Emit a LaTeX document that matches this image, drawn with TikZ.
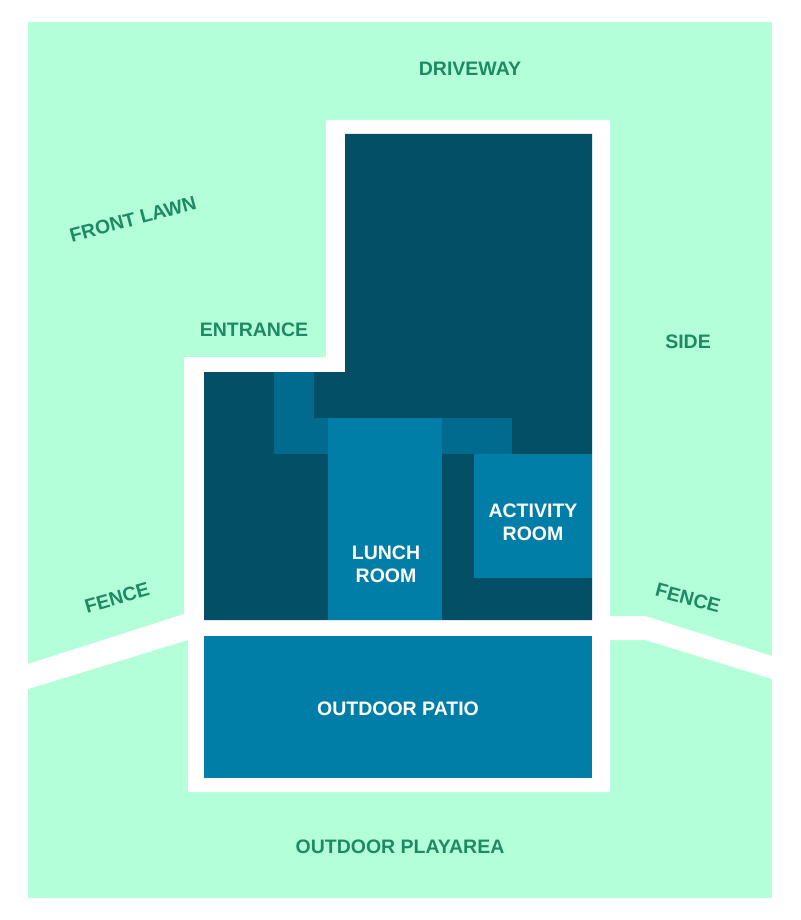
\documentclass[tikz,border=0pt]{standalone}
\usepackage{fontspec}
\setmainfont{Liberation Sans}
\definecolor{lawn}{HTML}{B3FFD9}
\definecolor{wall}{HTML}{024F66}
\definecolor{hall}{HTML}{006A8F}
\definecolor{room}{HTML}{007EA7}
\definecolor{tag}{HTML}{1E8A63}
\tikzset{
  area/.style={text=tag, inner sep=1pt, font=\bfseries\fontsize{19.5}{22}\selectfont},
  roomtag/.style={text=white, inner sep=1pt, font=\bfseries\fontsize{19.5}{23}\selectfont, align=center},
}
\begin{document}
\begin{tikzpicture}[x=1pt,y=-1pt]
    \useasboundingbox (0,0) rectangle (800,920);
    \fill[white] (0,0) rectangle (800,920);
    \fill[lawn] (28,22) rectangle (772,898);

    % building outline and fences
    \fill[white] (184,357) -- (326,357) -- (326,120) -- (610,120) -- (610,792) -- (188,792) -- (188,640) -- (184,640) -- cycle;
    \fill[white] (28,664) -- (184,614) -- (188,640) -- (28,689) -- cycle;
    \fill[white] (608,616) -- (645,616) -- (772,656) -- (772,679) -- (645,640) -- (608,640) -- cycle;

    % rooms
    \fill[wall] (204,372) -- (345,372) -- (345,134) -- (592,134) -- (592,620) -- (204,620) -- cycle;
    \fill[hall] (274,372) rectangle (314,454);
    \fill[hall] (314,418) rectangle (328,454);
    \fill[hall] (442,418) rectangle (512,454);
    \fill[room] (328,418) rectangle (442,620);
    \fill[room] (474,454) rectangle (592,578);
    \fill[room] (204,636) rectangle (592,778);

    % labels
    \node[area] (driveway) at (470,69) {DRIVEWAY};
    \node[area, rotate=15] (lawn) at (133,219) {FRONT LAWN};
    \node[area] (entrance) at (254,330) {ENTRANCE};
    \node[area] (side) at (688,342) {SIDE};
    \node[area, rotate=16] (fencel) at (117,598) {FENCE};
    \node[area, rotate=-15] (fencer) at (688,598) {FENCE};
    \node[area] (play) at (400,847) {OUTDOOR PLAYAREA};
    \node[roomtag] (lunch) at (386,564) {LUNCH\\ROOM};
    \node[roomtag] (activity) at (533,522) {ACTIVITY\\ROOM};
    \node[roomtag] (patio) at (398,709) {OUTDOOR PATIO};
\end{tikzpicture}
\end{document}
